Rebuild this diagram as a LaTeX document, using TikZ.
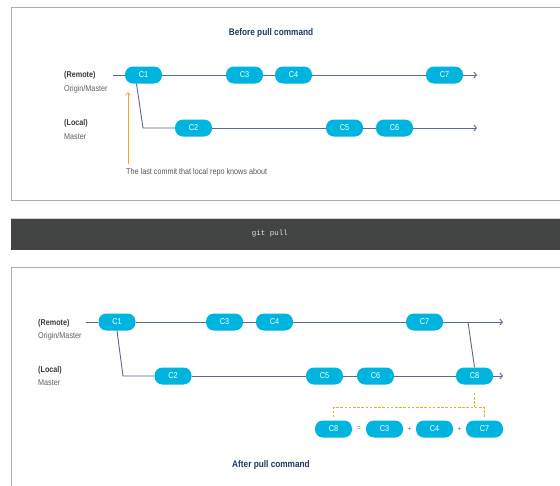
\documentclass[tikz,border=0pt]{standalone}
\usepackage{fontspec}
\setmainfont[FakeStretch=0.86]{Liberation Sans}
\setmonofont{Liberation Mono}
\usetikzlibrary{arrows.meta,calc}

\definecolor{commitblue}{HTML}{00B4E0}
\definecolor{linecol}{HTML}{5A6A8A}
\definecolor{titlecol}{HTML}{1E3A5F}
\definecolor{labelcol}{HTML}{3A3A3A}
\definecolor{subcol}{HTML}{606060}
\definecolor{notecol}{HTML}{F5A623}
\definecolor{barcol}{HTML}{424443}
\definecolor{framecol}{HTML}{ADADAD}

\begin{document}
\begin{tikzpicture}[x=1pt,y=-1pt,
  commit/.style={fill=commitblue, rounded corners=8pt, minimum width=37pt,
    minimum height=17pt, inner sep=0pt, text=white,
    font=\fontsize{8.5}{9}\selectfont},
  history/.style={draw=linecol, line width=0.9pt},
  ending/.style={history, -{Straight Barb[length=2.6pt,width=6pt]}},
  branchname/.style={anchor=west, text=labelcol, inner sep=0pt,
    font=\bfseries\fontsize{8.4}{9}\selectfont},
  refname/.style={anchor=west, text=subcol, inner sep=0pt,
    font=\fontsize{8.4}{9}\selectfont},
  heading/.style={text=titlecol, inner sep=0pt, font=\bfseries\fontsize{9.6}{11}\selectfont},
  frame/.style={draw=framecol, line width=0.8pt},
  pointer/.style={draw=notecol, line width=0.8pt, -{Straight Barb[length=2.5pt,width=5pt]}},
  bracket/.style={draw=notecol, line width=1.1pt, dash pattern=on 2.6pt off 1.6pt},
  op/.style={text=subcol, inner sep=0pt, font=\fontsize{7.5}{8}\selectfont}]

\clip (0,0) rectangle (560,485);
\fill[white] (0,0) rectangle (560,485);

% ---------- state before the pull ----------
\draw[frame] (11,7) rectangle (580,200);
\node[heading] (titleA) at (271,33) {Before pull command};

\node[branchname] (remA) at (64,75) {(Remote)};
\node[refname]    (oriA) at (64,89) {Origin/Master};
\node[branchname] (locA) at (64,123) {(Local)};
\node[refname]    (masA) at (64,137) {Master};

\coordinate (rsA) at (113,75);
\coordinate (reA) at (477,75);
\coordinate (leA) at (477,128);
\coordinate (bendA) at (143,128);

\node[commit] (a1) at (143.5,75) {C1};
\node[commit] (a3) at (244.5,75) {C3};
\node[commit] (a4) at (293.5,75) {C4};
\node[commit] (a7) at (444.5,75) {C7};
\node[commit] (a2) at (193.5,128) {C2};
\node[commit] (a5) at (344.5,128) {C5};
\node[commit] (a6) at (394.5,128) {C6};

\draw[history] (rsA) -- (a1.west);
\draw[history] (a1.east) -- (a3.west);
\draw[history] (a3.east) -- (a4.west);
\draw[history] (a4.east) -- (a7.west);
\draw[ending]  (a7.east) -- (reA);
\draw[history] ([xshift=-7pt]a1.south) -- (bendA) -- (a2.west);
\draw[history] (a2.east) -- (a5.west);
\draw[history] (a5.east) -- (a6.west);
\draw[ending]  (a6.east) -- (leA);

\node[refname, text=labelcol!85!white] (note) at (126,172) {The last commit that local repo knows about};
\coordinate (known) at (128,92);
\draw[pointer] (known |- 0,164) -- (known);

% ---------- the command ----------
\fill[barcol] (11,218) rectangle (580,250);
\draw[white!75!barcol, line width=0.5pt] (11,218.3) -- (580,218.3);
\node[text=white!88!black, font=\ttfamily\fontsize{7.5}{8}\selectfont] (cmd) at (270,234) {git pull};

% ---------- state after the pull ----------
\draw[frame] (11,267) rectangle (580,500);
\node[heading] (titleB) at (271,465) {After pull command};

\node[branchname] (remB) at (38,323) {(Remote)};
\node[refname]    (oriB) at (38,336) {Origin/Master};
\node[branchname] (locB) at (38,370) {(Local)};
\node[refname]    (masB) at (38,383) {Master};

\coordinate (rsB) at (86,322);
\coordinate (reB) at (503,322);
\coordinate (leB) at (503,376);
\coordinate (bendB) at (123,376);
\coordinate (mergeB) at (468,322);

\node[commit] (b1) at (117,322) {C1};
\node[commit] (b3) at (224.5,322) {C3};
\node[commit] (b4) at (274.5,322) {C4};
\node[commit] (b7) at (424.5,322) {C7};
\node[commit] (b2) at (173,376) {C2};
\node[commit] (b5) at (324.5,376) {C5};
\node[commit] (b6) at (375.5,376) {C6};
\node[commit] (b8) at (474.5,376) {C8};

\draw[history] (rsB) -- (b1.west);
\draw[history] (b1.east) -- (b3.west);
\draw[history] (b3.east) -- (b4.west);
\draw[history] (b4.east) -- (b7.west);
\draw[ending]  (b7.east) -- (reB);
\draw[history] (b1.south) -- (bendB) -- (b2.west);
\draw[history] (b2.east) -- (b5.west);
\draw[history] (b5.east) -- (b6.west);
\draw[history] (b6.east) -- (b8.west);
\draw[ending]  (b8.east) -- (leB);
\draw[history] (mergeB) -- (b8.north);

% what the merge commit contains
\node[commit] (f8) at (333.5,429) {C8};
\node[op]     (eq) at (359,429) {=};
\node[commit] (f3) at (384.5,429) {C3};
\node[op]     (p1) at (409.5,429) {+};
\node[commit] (f4) at (434.5,429) {C4};
\node[op]     (p2) at (459.5,429) {+};
\node[commit] (f7) at (484.5,429) {C7};

\draw[bracket] ([yshift=-8pt]b8.south) -- ++(0,14);
\draw[bracket] ([yshift=3pt]f8.north) -- ++(0,-10) -| ([yshift=3pt]f7.north);
\end{tikzpicture}
\end{document}
